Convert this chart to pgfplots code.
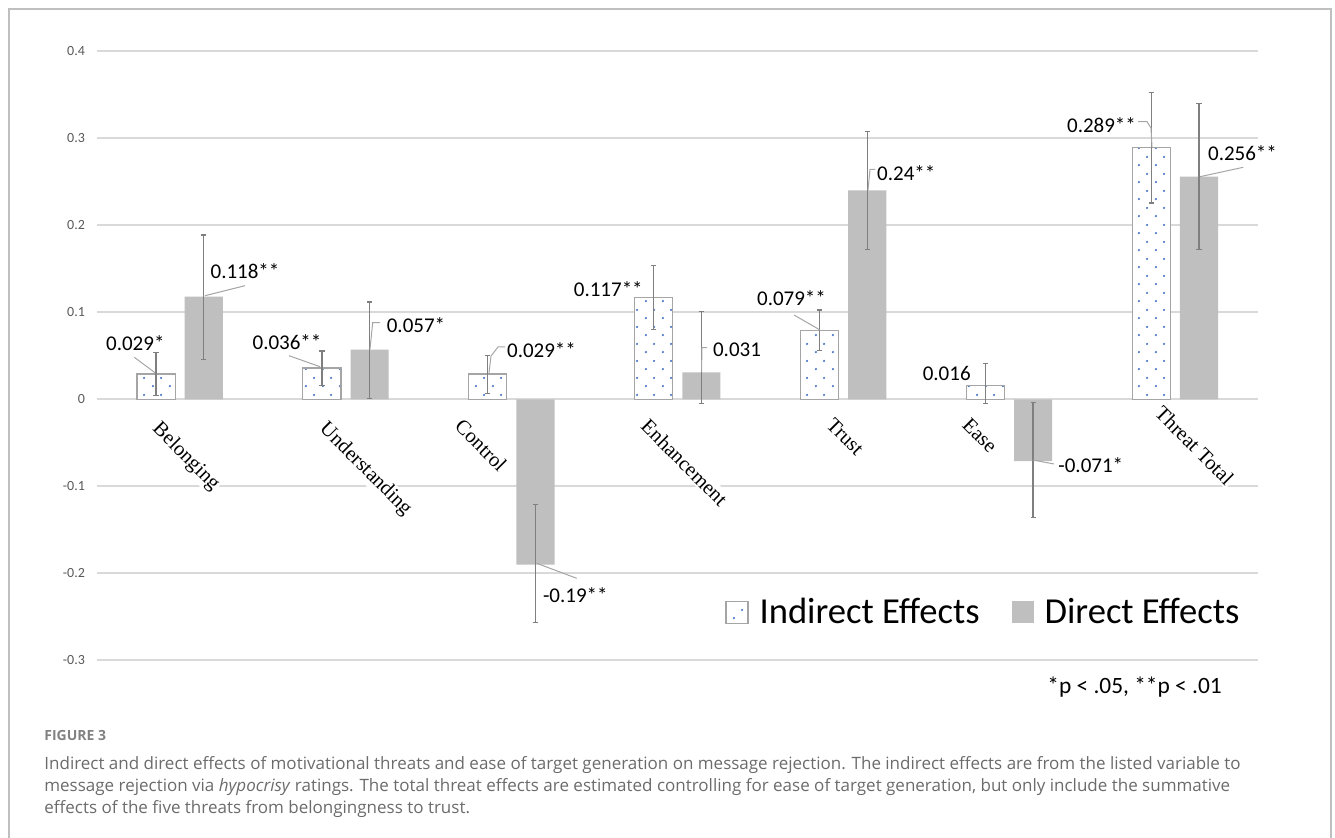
\documentclass[border=0pt]{standalone}
\usepackage{fontspec}
\setmainfont{Carlito}
\newfontfamily\seriffont{Liberation Serif}
\newfontfamily\capfont{Open Sans}
\usepackage{pgfplots}
\usepackage{pgfplotstable}
\pgfplotsset{compat=1.18}
\usetikzlibrary{patterns.meta}

\definecolor{gridgray}{HTML}{D9D9D9}
\definecolor{tickgray}{HTML}{595959}
\definecolor{outgray}{HTML}{A5A5A5}
\definecolor{dirgray}{HTML}{BFBFBF}
\definecolor{errgray}{HTML}{7F7F7F}
\definecolor{dotblue}{HTML}{4472C4}
\definecolor{leadgray}{HTML}{A6A6A6}
\definecolor{framegray}{HTML}{BFBFBF}
\definecolor{captext}{HTML}{6B6B6B}

\tikzdeclarepattern{
  name=bdots,
  type=uncolored,
  bounding box={(0pt,0pt) and (8.3pt,8.3pt)},
  tile size={(8.3pt,8.3pt)},
  code={
    \fill (2pt,2pt) circle (0.62pt);
    \fill (6.15pt,6.15pt) circle (0.62pt);
  }
}

\pgfplotsset{
  indleg/.style={legend image code/.code={\draw[##1] (0pt,-5.5pt) rectangle (11pt,5.5pt);}},
  dirleg/.style={legend image code/.code={\fill[dirgray] (0pt,-5.5pt) rectangle (11pt,5.5pt);}},
  errb/.style={draw=none, mark=none, forget plot,
    error bars/.cd, y dir=both, y explicit,
    error bar style={draw=errgray, line width=0.65pt, solid},
    error mark=-,
    error mark options={draw=errgray, line width=0.65pt, mark size=1.3pt, rotate=90}},
}

\pgfplotstableread{
x ind indp indm dir dirp dirm
0 0.029 0.025 0.0244 0.118 0.071 0.072
1 0.036 0.0195 0.0203 0.057 0.055 0.056
2 0.029 0.021 0.0225 -0.190 0.069 0.0667
3 0.117 0.0367 0.037 0.031 0.070 0.036
4 0.079 0.0236 0.023 0.240 0.0677 0.0676
5 0.016 0.025 0.021 -0.071 0.067 0.065
6 0.289 0.064 0.0634 0.256 0.084 0.0836
}\data

\begin{document}
\begin{tikzpicture}
\useasboundingbox (0pt,0pt) rectangle (667.5pt,-419pt);
\begin{axis}[
  at={(48.5pt,-330.15pt)}, anchor=south west,
  scale only axis, width=580.5pt, height=304.5pt,
  xmin=-0.5, xmax=6.5, ymin=-0.3, ymax=0.4,
  clip=false,
  axis line style={draw=none},
  xtick=\empty,
  ytick={-0.3,-0.2,-0.1,0,0.1,0.2,0.3,0.4},
  yticklabels={-0.3,-0.2,-0.1,0,0.1,0.2,0.3,0.4},
  yticklabel style={font=\fontsize{7}{8}\selectfont, text=tickgray, anchor=east, xshift=-2.5pt},
  major tick length=0pt,
  tick style={draw=none},
  ymajorgrids,
  major grid style={draw=gridgray, line width=0.8pt},
  legend style={at={(axis description cs:0.5409,0.0788)}, anchor=west,
    draw=none, fill=none, inner sep=0pt,
    font=\fontsize{18.3}{20}\selectfont,
    /tikz/every odd column/.append style={column sep=3.5pt},
    /tikz/every even column/.append style={column sep=14pt}},
  legend columns=2,
  legend cell align=left,
]
\addplot[ybar, bar width=0.23, bar shift=-0.144, fill=white, draw=none, forget plot]
  table[x=x,y=ind]{\data};
\addplot[ybar, bar width=0.23, bar shift=-0.144, draw=outgray, line width=0.6pt,
  pattern=bdots, pattern color=dotblue, indleg]
  table[x=x,y=ind]{\data};
\addlegendentry{Indirect Effects}
\addplot[ybar, bar width=0.23, bar shift=0.144, fill=dirgray, draw=none, dirleg]
  table[x=x,y=dir]{\data};
\addlegendentry{Direct Effects}
% error bars
\addplot[errb] table[x expr=\thisrow{x}-0.144, y=ind, y error plus=indp, y error minus=indm]{\data};
\addplot[errb] table[x expr=\thisrow{x}+0.144, y=dir, y error plus=dirp, y error minus=dirm]{\data};
\end{axis}

\begin{scope}[x=0.5pt,y=-0.5pt]
% category labels
\tikzset{mycat/.style={font=\seriffont\fontsize{10.3}{12}\selectfont, fill=white, inner sep=0.8pt, anchor=north west, rotate=-45}}
\node[mycat] at (162,417) {Belonging};
\node[mycat] at (329,417) {Understanding};
\node[mycat] at (464,415) {Control};
\node[mycat] at (650,415) {Enhancement};
\node[mycat] at (835,414) {Trust};
\node[mycat] at (971,414) {Ease};
\node[mycat] at (1164,402) {Threat Total};

% leader lines
\tikzset{mylead/.style={draw=leadgray, line width=0.5pt}}
\draw[mylead] (134.3,357.3)--(155,372.7);
\draw[mylead] (245,285.7)--(205,295.7);
\draw[mylead] (289,355.7)--(320,366.7);
\draw[mylead] (380,322.7)--(372.7,322.7)--(370,349);
\draw[mylead] (505,347)--(498,347)--(491,356)--(489,373);
\draw[mylead] (576.7,578.3)--(536.7,563.3);
\draw[mylead] (707,347.7)--(702,347.7)--(701.5,371.7);
\draw[mylead] (794,315)--(820,330);
\draw[mylead] (875.3,169.3)--(870,169.3)--(868,190);
\draw[mylead] (1033,460)--(1054,464);
\draw[mylead] (1138,121.7)--(1147,121.7)--(1151,128)--(1152,147);
\draw[mylead] (1243.3,167.3)--(1200,176.7);

% data labels
\tikzset{mylab/.style={font=\fontsize{10.5}{12}\selectfont, inner sep=0pt, anchor=center}}
\node[mylab] at (135.3,343.5) {0.029*};
\node[mylab] at (245,271) {0.118**};
\node[mylab] at (287,342.3) {0.036**};
\node[mylab] at (416,325) {0.057*};
\node[mylab] at (541.5,350) {0.029**};
\node[mylab] at (575.3,595) {-0.19**};
\node[mylab] at (608.3,289.3) {0.117**};
\node[mylab] at (737,350) {0.031};
\node[mylab] at (791.5,298.3) {0.079**};
\node[mylab] at (906.3,173) {0.24**};
\node[mylab] at (946.7,373.3) {0.016};
\node[mylab] at (1090.8,465.5) {-0.071*};
\node[mylab] at (1101.5,125.5) {0.289**};
\node[mylab] at (1242.5,152.7) {0.256**};

\node[font=\fontsize{11.7}{13}\selectfont, inner sep=0pt, anchor=base west] at (1047,694) {*p < .05, **p < .01};

% frame
\draw[framegray, line width=1pt] (9,845)--(9,9)--(1331,9)--(1331,845);

% caption
\tikzset{mycap/.style={font=\capfont\fontsize{8.5}{10}\selectfont, text=captext, inner sep=0pt, anchor=base west}}
\node[mycap, font=\capfont\bfseries\fontsize{7}{8}\selectfont, text=captext!85] at (44,741) {FIGURE 3};
\node[mycap] at (44,770) {Indirect and direct effects of motivational threats and ease of target generation on message rejection. The indirect effects are from the listed variable to};
\node[mycap] at (44,792) {message rejection via \textit{hypocrisy} ratings. The total threat effects are estimated controlling for ease of target generation, but only include the summative};
\node[mycap] at (44,814) {effects of the five threats from belongingness to trust.};
\end{scope}
\end{tikzpicture}
\end{document}
